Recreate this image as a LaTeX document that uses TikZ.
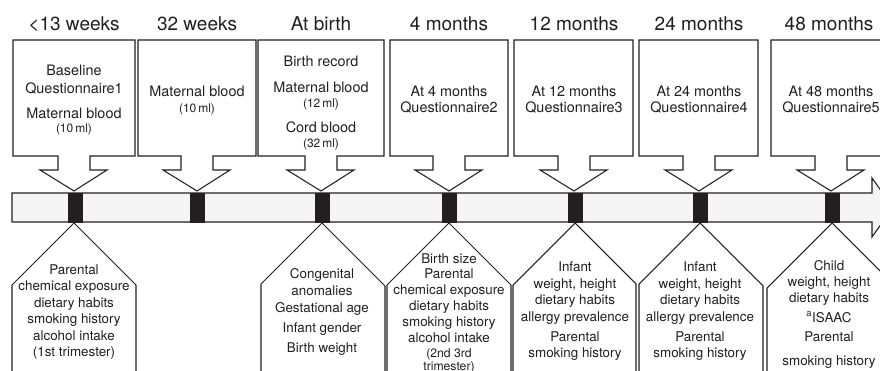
\documentclass[tikz,border=0pt]{standalone}
\usepackage{fontspec}
\setmainfont{TeX Gyre Heros}
\definecolor{ink}{HTML}{231F20}
\definecolor{barfill}{HTML}{F5F5F5}
\tikzset{
  shapeline/.style={draw=ink, line width=1.05pt, fill=white, line join=miter},
  lbl/.style={font=\fontsize{19}{22}\selectfont, text=ink, anchor=base, inner sep=0pt},
  tt/.style={font=\fontsize{14.4}{17}\selectfont, text=ink, anchor=base, inner sep=0pt},
  ts/.style={font=\fontsize{12}{14}\selectfont, text=ink, anchor=base, inner sep=0pt},
  bt/.style={font=\fontsize{13.4}{16}\selectfont, text=ink, anchor=base, inner sep=0pt},
  bs/.style={font=\fontsize{12.2}{14}\selectfont, text=ink, anchor=base, inner sep=0pt},
  marker/.style={fill=ink, draw=ink, line width=0.6pt}
}
\newcommand\topcall[3]{%
  \draw[shapeline] (#2,40) -- (#3,40) -- (#3,156) -- ({#1+16},156) -- ({#1+16},170)
    -- ({#1+33},170) -- (#1,191) -- ({#1-34},170) -- ({#1-16},170) -- ({#1-16},156)
    -- (#2,156) -- cycle;}
\newcommand\botcall[3]{%
  \draw[shapeline] (#1,223) -- (#3,{223+#3-#1}) -- (#3,400) -- (#2,400)
    -- (#2,{223+#1-#2}) -- cycle;}
\begin{document}
\begin{tikzpicture}[x=1pt,y=-1pt]
\clip (0,0) rectangle (880,371);
\fill[white] (0,0) rectangle (880,371);
% timeline
\draw[draw=ink, line width=1.05pt, fill=barfill, line join=miter]
  (12,193) -- (872,193) -- (872,178) -- (893,207.5) -- (872,237) -- (872,222) -- (12,222) -- cycle;
\foreach \c in {75,197,322,449,575,700,832}
  \draw[marker] ({\c-7},193) rectangle ({\c+7},222);
% top callouts
\topcall{74}{13}{135}
\topcall{197}{138}{256}
\topcall{321}{258}{384}
\topcall{449}{390}{508}
\topcall{574}{514}{633}
\topcall{699}{639}{758}
\topcall{831}{771}{891}
% bottom callouts
\botcall{74}{12}{136}
\botcall{322}{261}{385}
\botcall{449}{387}{511}
\botcall{575}{513}{636}
\botcall{700}{639}{763}
\botcall{832}{767}{897}
% time labels
\node[lbl] (l1) at (74,31) {<13 weeks};
\node[lbl] (l2) at (197,31) {32 weeks};
\node[lbl] (l3) at (321,31) {At birth};
\node[lbl] (l4) at (449,31) {4 months};
\node[lbl] (l5) at (574,31) {12 months};
\node[lbl] (l6) at (699,31) {24 months};
\node[lbl] (l7) at (829,31) {48 months};
% top box texts
\node[tt] (t1a) at (74,76) {Baseline};
\node[tt] (t1b) at (74,94) {Questionnaire1};
\node[tt] (t1c) at (74,119) {Maternal blood};
\node[ts] (t1d) at (74,133) {(10\,ml)};
\node[tt] (t2a) at (197,97) {Maternal blood};
\node[ts] (t2b) at (197,113) {(10\,ml)};
\node[tt] (t3a) at (321,67) {Birth record};
\node[tt] (t3b) at (321,93) {Maternal blood};
\node[ts] (t3c) at (321,108) {(12\,ml)};
\node[tt] (t3d) at (321,133) {Cord blood};
\node[ts] (t3e) at (321,148) {(32\,ml)};
\node[tt] (t4a) at (449,97) {At 4 months};
\node[tt] (t4b) at (449,113) {Questionnaire2};
\node[tt] (t5a) at (574,97) {At 12 months};
\node[tt] (t5b) at (574,113) {Questionnaire3};
\node[tt] (t6a) at (699,97) {At 24 months};
\node[tt] (t6b) at (699,113) {Questionnaire4};
\node[tt] (t7a) at (831,97) {At 48 months};
\node[tt] (t7b) at (831,113) {Questionnaire5};
% bottom texts
\node[bt] (b1a) at (74,274) {Parental};
\node[bt] (b1b) at (74,290.5) {chemical exposure};
\node[bt] (b1c) at (74,307) {dietary habits};
\node[bt] (b1d) at (74,323.5) {smoking history};
\node[bt] (b1e) at (74,340) {alcohol intake};
\node[bt] (b1f) at (74,356.5) {(1st trimester)};
\node[bt] (b3a) at (322,278) {Congenital};
\node[bt] (b3b) at (322,295) {anomalies};
\node[bt] (b3c) at (322,312) {Gestational age};
\node[bt] (b3d) at (322,332) {Infant gender};
\node[bt] (b3e) at (322,352) {Birth weight};
\node[bt] (b4a) at (449,263) {Birth size};
\node[bt] (b4b) at (449,278) {Parental};
\node[bt] (b4c) at (449,294) {chemical exposure};
\node[bt] (b4d) at (449,310) {dietary habits};
\node[bt] (b4e) at (449,326) {smoking history};
\node[bt] (b4f) at (449,342) {alcohol intake};
\node[bs] (b4g) at (449,357) {(2nd 3rd};
\node[bs] (b4h) at (449,370) {trimester)};
\node[bt] (b5a) at (575,272) {Infant};
\node[bt] (b5b) at (575,288) {weight, height};
\node[bt] (b5c) at (575,304) {dietary habits};
\node[bt] (b5d) at (575,321) {allergy prevalence};
\node[bt] (b5e) at (575,341) {Parental};
\node[bt] (b5f) at (575,357) {smoking history};
\node[bt] (b6a) at (700,272) {Infant};
\node[bt] (b6b) at (700,288) {weight, height};
\node[bt] (b6c) at (700,304) {dietary habits};
\node[bt] (b6d) at (700,321) {allergy prevalence};
\node[bt] (b6e) at (700,341) {Parental};
\node[bt] (b6f) at (700,357) {smoking history};
\node[bt] (b7a) at (829,270) {Child};
\node[bt] (b7b) at (829,286) {weight, height};
\node[bt] (b7c) at (829,302) {dietary habits};
\node[bt] (b7d) at (829,322) {\textsuperscript{a}ISAAC};
\node[bt] (b7e) at (829,341) {Parental};
\node[bt] (b7f) at (829,365) {smoking history};
\end{tikzpicture}
\end{document}
